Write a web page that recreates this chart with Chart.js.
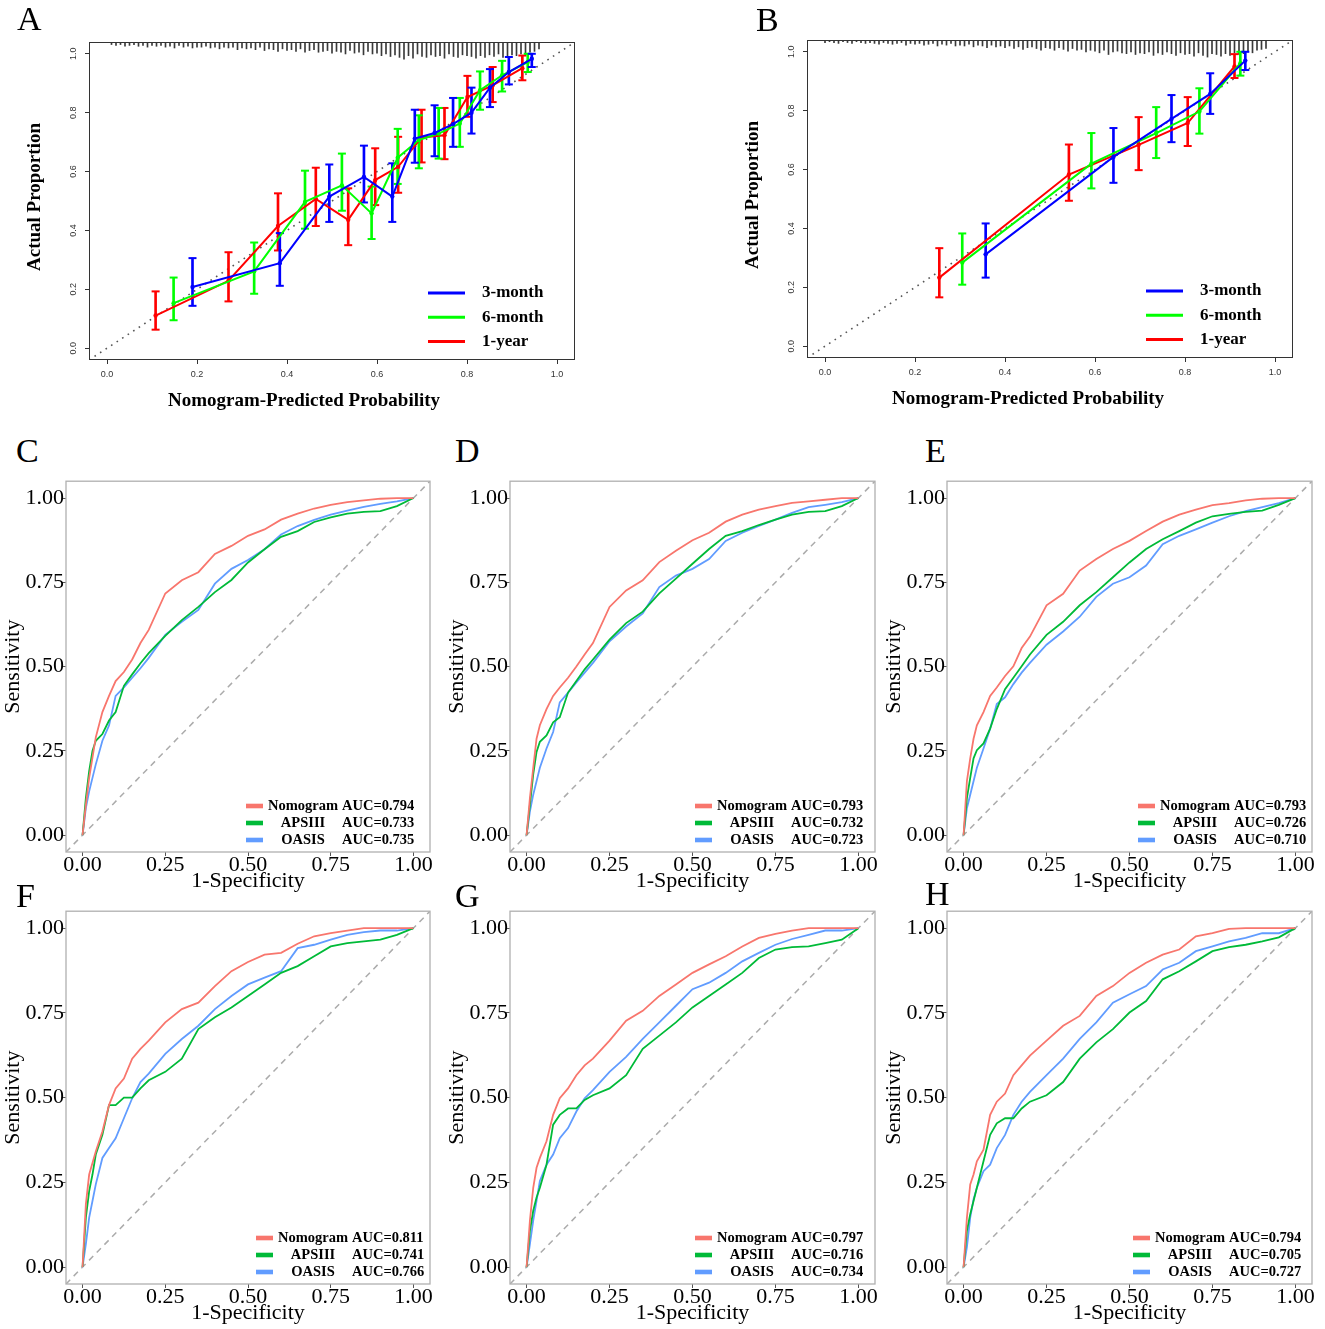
<!DOCTYPE html>
<html>
<head>
<meta charset="utf-8">
<script src="https://cdn.jsdelivr.net/npm/chart.js@4.4.1/dist/chart.umd.min.js"></script>
<style>
  html, body { margin: 0; padding: 0; background: #fff; }
  body { width: 1325px; height: 1329px; position: relative; overflow: hidden; }
  canvas { position: absolute; }
  .tag { position: absolute; font: 34px/34px "Liberation Serif", serif; color: #000; z-index: 5; }
</style>
</head>
<body>
<div class="tag" style="left:17px;top:2px">A</div>
<div class="tag" style="left:756px;top:3px">B</div>
<div class="tag" style="left:16px;top:434px">C</div>
<div class="tag" style="left:455px;top:434px">D</div>
<div class="tag" style="left:925px;top:434px">E</div>
<div class="tag" style="left:16px;top:879px">F</div>
<div class="tag" style="left:455px;top:879px">G</div>
<div class="tag" style="left:925px;top:877px">H</div>
<script>
// ---- calibration curves (A, B) ----
const calTicks = [0, 0.2, 0.4, 0.6, 0.8, 1.0];
const calLabels = ['3-month', '6-month', '1-year'];
const calColors = ['#0000FF', '#00FF00', '#FF0000'];
const calRange = [-0.04, 1.04];

// A
const a3mX = [0.190, 0.384, 0.494, 0.571, 0.634, 0.684, 0.728, 0.769, 0.810, 0.851, 0.893, 0.944];
const a3mY = [0.208, 0.289, 0.515, 0.582, 0.515, 0.712, 0.731, 0.761, 0.800, 0.885, 0.938, 0.983];
const a3mLo = [0.144, 0.212, 0.429, 0.495, 0.429, 0.630, 0.652, 0.684, 0.729, 0.819, 0.896, 0.955];
const a3mHi = [0.306, 0.391, 0.624, 0.688, 0.628, 0.810, 0.825, 0.850, 0.885, 0.948, 0.989, 1.000];
const a6mX = [0.148, 0.327, 0.440, 0.522, 0.588, 0.646, 0.693, 0.737, 0.784, 0.829, 0.878, 0.935];
const a6mY = [0.153, 0.261, 0.497, 0.553, 0.458, 0.647, 0.707, 0.729, 0.763, 0.876, 0.927, 0.972];
const a6mLo = [0.095, 0.185, 0.406, 0.467, 0.371, 0.558, 0.611, 0.644, 0.684, 0.810, 0.872, 0.938];
const a6mHi = [0.240, 0.359, 0.603, 0.661, 0.549, 0.745, 0.791, 0.816, 0.850, 0.940, 0.976, 1.000];
const a1yX = [0.108, 0.270, 0.380, 0.464, 0.536, 0.596, 0.647, 0.699, 0.750, 0.801, 0.857, 0.923];
const a1yY = [0.111, 0.229, 0.415, 0.507, 0.436, 0.571, 0.616, 0.716, 0.723, 0.853, 0.893, 0.951];
const a1yLo = [0.063, 0.159, 0.332, 0.415, 0.350, 0.486, 0.528, 0.631, 0.642, 0.786, 0.836, 0.910];
const a1yHi = [0.193, 0.326, 0.526, 0.613, 0.543, 0.679, 0.718, 0.810, 0.816, 0.925, 0.955, 0.994];

// B
const b3mX = [0.357, 0.641, 0.770, 0.856, 0.934];
const b3mY = [0.312, 0.643, 0.772, 0.857, 0.970];
const b3mLo = [0.233, 0.555, 0.693, 0.789, 0.938];
const b3mHi = [0.417, 0.741, 0.853, 0.927, 1.000];
const b6mX = [0.305, 0.592, 0.736, 0.832, 0.923];
const b6mY = [0.284, 0.620, 0.724, 0.797, 0.961];
const b6mLo = [0.209, 0.536, 0.639, 0.722, 0.919];
const b6mHi = [0.383, 0.724, 0.812, 0.876, 1.000];
const b1yX = [0.254, 0.542, 0.697, 0.806, 0.910];
const b1yY = [0.233, 0.583, 0.684, 0.758, 0.950];
const b1yLo = [0.166, 0.494, 0.598, 0.680, 0.911];
const b1yHi = [0.333, 0.685, 0.778, 0.846, 0.992];

// rug of predicted probabilities (relative frequency)
const rugAProb = [0.01,0.02,0.03,0.04,0.05,0.06,0.07,0.08,0.09,0.10,0.11,0.12,0.13,0.14,0.15,0.16,0.17,0.18,0.19,0.20,0.21,0.22,0.23,0.24,0.25,0.26,0.27,0.28,0.29,0.30,0.31,0.32,0.33,0.34,0.35,0.36,0.37,0.38,0.39,0.40,0.41,0.42,0.43,0.44,0.45,0.46,0.47,0.48,0.49,0.50,0.51,0.52,0.53,0.54,0.55,0.56,0.57,0.58,0.59,0.60,0.61,0.62,0.63,0.64,0.65,0.66,0.67,0.68,0.69,0.70,0.71,0.72,0.73,0.74,0.75,0.76,0.77,0.78,0.79,0.80,0.81,0.82,0.83,0.84,0.85,0.86,0.87,0.88,0.89,0.90,0.91,0.92,0.93,0.94,0.95,0.96];
const rugAFreq = [0.15,0.2,0.15,0.25,0.2,0.15,0.25,0.2,0.3,0.2, 0.25,0.2,0.3,0.25,0.35,0.2,0.3,0.25,0.35,0.3, 0.3,0.25,0.35,0.3,0.4,0.3,0.35,0.3,0.45,0.35, 0.4,0.35,0.45,0.3,0.5,0.4,0.45,0.55,0.4,0.5, 0.45,0.55,0.4,0.6,0.5,0.45,0.6,0.55,0.5,0.65, 0.55,0.6,0.7,0.5,0.65,0.6,0.75,0.55,0.7,0.65, 0.8,0.7,0.85,0.75,0.9,1.0,0.8,0.95,0.7,0.85, 0.9,0.75,0.85,0.8,0.95,0.7,0.85,0.9,0.75,0.8, 0.85,0.95,0.8,0.9,0.75,0.85,0.7,0.9,0.8,0.75, 0.8,0.7,0.75,0.6,0.55,0.4];
const rugBProb = [0.00,0.01,0.02,0.03,0.04,0.05,0.06,0.07,0.08,0.09,0.10,0.11,0.12,0.13,0.14,0.15,0.16,0.17,0.18,0.19,0.20,0.21,0.22,0.23,0.24,0.25,0.26,0.27,0.28,0.29,0.30,0.31,0.32,0.33,0.34,0.35,0.36,0.37,0.38,0.39,0.40,0.41,0.42,0.43,0.44,0.45,0.46,0.47,0.48,0.49,0.50,0.51,0.52,0.53,0.54,0.55,0.56,0.57,0.58,0.59,0.60,0.61,0.62,0.63,0.64,0.65,0.66,0.67,0.68,0.69,0.70,0.71,0.72,0.73,0.74,0.75,0.76,0.77,0.78,0.79,0.80,0.81,0.82,0.83,0.84,0.85,0.86,0.87,0.88,0.89,0.90,0.91,0.92,0.93,0.94,0.95,0.96,0.97,0.98];
const rugBFreq = [0.15,0.1,0.15,0.2,0.1,0.15,0.2,0.1,0.15,0.2, 0.15,0.2,0.25,0.15,0.2,0.25,0.2,0.15,0.3,0.2, 0.25,0.2,0.3,0.25,0.2,0.35,0.25,0.3,0.2,0.35, 0.3,0.35,0.25,0.4,0.3,0.35,0.45,0.3,0.4,0.35, 0.45,0.35,0.5,0.4,0.55,0.45,0.4,0.5,0.6,0.45, 0.5,0.6,0.45,0.55,0.65,0.5,0.6,0.55,0.7,0.6, 0.65,0.75,0.6,0.85,0.7,0.65,0.75,0.8,0.7,0.85, 0.75,0.8,0.7,0.9,0.75,0.85,0.7,0.8,0.9,0.75, 0.85,0.8,0.95,0.75,0.9,1.0,0.8,0.85,0.95,0.8, 0.9,0.75,0.85,0.8,0.7,0.75,0.6,0.55,0.5];

// ---- ROC curves (C - H) ----
const rocTicks = [0, 0.25, 0.5, 0.75, 1];
const rocRange = [-0.05, 1.05];
const rocNames = ['Nomogram', 'APSIII', 'OASIS'];
const rocColors = ['#F8766D', '#00BA38', '#619CFF'];
const rocFpr = [0, 0.01, 0.02, 0.03, 0.04, 0.06, 0.08, 0.1, 0.125, 0.15, 0.175, 0.2, 0.25, 0.3, 0.35, 0.4, 0.45, 0.5, 0.55, 0.6, 0.65, 0.7, 0.75, 0.8, 0.85, 0.9, 0.95, 1];

const tprCNom = [0,.09,.17,.23,.29,.365,.413,.457,.484,.521,.57,.609,.717,.756,.78,.834,.858,.888,.907,.936,.954,.969,.98,.988,.993,.998,1,1];
const tprCAps = [0,.11,.19,.25,.28,.30,.34,.365,.443,.477,.51,.54,.591,.638,.677,.721,.757,.809,.848,.885,.902,.929,.943,.954,.959,.961,.976,1];
const tprCOas = [0,.08,.13,.17,.21,.28,.325,.413,.438,.467,.495,.526,.594,.633,.668,.746,.79,.816,.848,.892,.917,.935,.951,.963,.974,.983,.99,1];
const aucC = ['0.794', '0.733', '0.735'];

const tprDNom = [0,.11,.20,.286,.326,.374,.413,.438,.467,.50,.536,.57,.677,.726,.756,.81,.844,.875,.897,.93,.951,.966,.976,.986,.99,.995,1,1];
const tprDAps = [0,.09,.18,.247,.277,.296,.335,.35,.423,.457,.492,.521,.58,.629,.663,.717,.761,.805,.849,.888,.902,.92,.936,.951,.959,.961,.976,1];
const tprDOas = [0,.07,.12,.16,.20,.257,.306,.394,.423,.453,.482,.511,.575,.619,.658,.736,.77,.79,.819,.873,.897,.917,.936,.956,.973,.98,.988,1];
const aucD = ['0.793', '0.732', '0.723'];

const tprENom = [0,.16,.228,.286,.326,.365,.413,.438,.472,.501,.555,.589,.682,.716,.785,.819,.849,.873,.902,.93,.951,.966,.979,.985,.993,.998,1,1];
const tprEAps = [0,.11,.17,.228,.252,.272,.316,.374,.433,.467,.501,.536,.594,.633,.682,.721,.765,.809,.849,.878,.902,.927,.946,.953,.959,.963,.98,1];
const tprEOas = [0,.08,.12,.16,.20,.257,.316,.389,.409,.448,.482,.511,.565,.604,.648,.707,.746,.765,.80,.863,.888,.907,.927,.946,.961,.973,.985,1];
const aucE = ['0.793', '0.726', '0.710'];

const tprFNom = [0,.185,.273,.307,.341,.40,.478,.527,.556,.615,.644,.668,.722,.761,.78,.829,.873,.90,.922,.927,.954,.976,.985,.993,1,1,1,1];
const tprFAps = [0,.146,.224,.273,.332,.39,.478,.478,.50,.50,.527,.551,.576,.615,.702,.737,.766,.80,.834,.868,.888,.917,.946,.956,.961,.966,.98,1];
const tprFOas = [0,.068,.146,.195,.244,.322,.351,.38,.439,.498,.546,.571,.629,.673,.712,.761,.80,.834,.854,.873,.941,.951,.966,.98,.988,.993,.993,1];
const aucF = ['0.811', '0.741', '0.766'];

const tprGNom = [0,.137,.234,.293,.322,.371,.449,.498,.527,.566,.595,.615,.668,.727,.756,.80,.834,.868,.893,.917,.946,.971,.983,.993,1,1,1,1];
const tprGAps = [0,.107,.166,.205,.234,.302,.42,.449,.468,.468,.493,.507,.527,.566,.644,.683,.722,.766,.80,.834,.868,.912,.937,.944,.946,.956,.966,1];
const tprGOas = [0,.068,.137,.195,.254,.302,.332,.38,.41,.459,.498,.522,.576,.62,.673,.722,.771,.82,.839,.868,.902,.927,.951,.968,.98,.993,.993,1];
const aucG = ['0.797', '0.716', '0.734'];

const tprHNom = [0,.146,.244,.273,.312,.346,.449,.488,.512,.566,.595,.624,.668,.712,.741,.80,.829,.868,.898,.922,.937,.976,.985,.998,1,1,1,1];
const tprHAps = [0,.107,.156,.195,.234,.312,.39,.424,.439,.439,.468,.488,.507,.546,.615,.663,.702,.751,.785,.849,.873,.902,.932,.944,.951,.961,.973,1];
const tprHOas = [0,.059,.146,.20,.234,.283,.302,.351,.39,.449,.488,.517,.566,.615,.673,.722,.78,.805,.829,.878,.898,.932,.946,.961,.971,.985,.985,1];
const aucH = ['0.794', '0.705', '0.727'];

const SERIF = "'Liberation Serif', 'Times New Roman', serif";

// canvas placed on the page, box = wanted plot area in page pixels
function makeCanvas(cv) {
    const c = document.createElement('canvas');
    c.width = cv.w; c.height = cv.h;
    c.style.left = cv.x + 'px'; c.style.top = cv.y + 'px';
    c.style.width = cv.w + 'px'; c.style.height = cv.h + 'px';
    document.body.appendChild(c);
    return c;
}

// box, rotated tick labels, titles and legend of the calibration plots
const calDecor = {
    id: 'calDecor',
    afterDraw(chart, args, o) {
        const { ctx, chartArea: a, scales: { x, y } } = chart;
        ctx.save();
        ctx.strokeStyle = '#333';
        ctx.lineWidth = 1;
        ctx.strokeRect(a.left + 0.5, a.top + 0.5, a.right - a.left - 1, a.bottom - a.top - 1);

        ctx.fillStyle = '#333';
        ctx.font = "9px 'Liberation Sans', Arial, sans-serif";
        ctx.textAlign = 'center';
        ctx.textBaseline = 'middle';
        calTicks.forEach(v => ctx.fillText(v.toFixed(1), x.getPixelForValue(v), a.bottom + 15));
        calTicks.forEach(v => {
            ctx.save();
            ctx.translate(a.left - 15, y.getPixelForValue(v));
            ctx.rotate(-Math.PI / 2);
            ctx.fillText(v.toFixed(1), 0, 0);
            ctx.restore();
        });

        ctx.fillStyle = '#000';
        ctx.font = 'bold 19px ' + SERIF;
        ctx.fillText(o.xTitle, a.left + o.xTitleDx, a.bottom + 41);
        ctx.save();
        ctx.translate(a.left - 54, (a.top + a.bottom) / 2 - 4);
        ctx.rotate(-Math.PI / 2);
        ctx.fillText(o.yTitle, 0, 0);
        ctx.restore();

        ctx.font = 'bold 17px ' + SERIF;
        ctx.textAlign = 'left';
        calLabels.forEach((t, i) => {
            const yy = a.bottom - 67 + i * 24.2;
            ctx.strokeStyle = calColors[i];
            ctx.lineWidth = 3;
            ctx.beginPath();
            ctx.moveTo(a.right - 147, yy);
            ctx.lineTo(a.right - 110, yy);
            ctx.stroke();
            ctx.fillStyle = '#000';
            ctx.fillText(t, a.right - 93, yy);
        });
        ctx.restore();
    }
};

function calChart(cv, box, series, rugProb, rugFreq, xTitleDx) {
    const datasets = [];
    series.forEach((s, i) => {
        datasets.push({
            type: 'line',
            data: s.x.map((x, j) => ({ x, y: s.y[j] })),
            borderColor: calColors[i], backgroundColor: calColors[i],
            borderWidth: 2, pointRadius: 2.2, pointBorderWidth: 0, tension: 0, order: 1
        });
    });
    series.forEach((s, i) => {
        datasets.push({
            type: 'bar',
            data: s.x.map((x, j) => ({ x, y: [s.lo[j], s.hi[j]] })),
            backgroundColor: calColors[i], barThickness: 2, grouped: false, order: 2
        });
        datasets.push({
            type: 'scatter',
            data: s.x.flatMap((x, j) => [{ x, y: s.lo[j] }, { x, y: s.hi[j] }]),
            pointStyle: 'line', pointRadius: 4, borderColor: calColors[i],
            pointBorderWidth: 2, order: 2
        });
    });
    // rug hangs from the top edge of the plot
    datasets.push({
        type: 'bar',
        data: rugProb.map((x, j) => ({ x, y: [calRange[1] - rugFreq[j] * 0.058, calRange[1]] })),
        backgroundColor: '#3a3a3a', barThickness: 1, grouped: false, order: 3
    });
    datasets.push({
        type: 'line',
        data: calRange.map(v => ({ x: v, y: v })),
        borderColor: '#555', borderWidth: 1.6, borderDash: [1.6, 5], pointRadius: 0, order: 4
    });

    const axis = {
        type: 'linear', min: calRange[0], max: calRange[1], offset: false,
        ticks: { display: false },
        grid: { offset: false, drawOnChartArea: false, drawTicks: true, tickLength: 4, tickColor: '#333' },
        border: { display: false },
        afterBuildTicks: s => { s.ticks = calTicks.map(v => ({ value: v })); }
    };
    new Chart(makeCanvas(cv), {
        type: 'scatter',
        data: { datasets },
        options: {
            responsive: false, animation: false, events: [],
            layout: { padding: { left: 0, top: box.t - cv.y, right: cv.x + cv.w - box.r, bottom: 0 } },
            plugins: {
                legend: { display: false }, tooltip: { enabled: false },
                calDecor: { xTitle: 'Nomogram-Predicted Probability', yTitle: 'Actual Proportion', xTitleDx }
            },
            scales: {
                x: Object.assign({}, axis, { position: 'bottom', afterFit: s => { s.height = cv.y + cv.h - box.b; } }),
                y: Object.assign({}, axis, { position: 'left', afterFit: s => { s.width = box.l - cv.x; } })
            }
        },
        plugins: [calDecor]
    });
}

// box and legend of the ROC plots
const rocDecor = {
    id: 'rocDecor',
    afterDraw(chart, args, o) {
        const { ctx, chartArea: a } = chart;
        ctx.save();
        ctx.strokeStyle = '#B0B0B0';
        ctx.lineWidth = 1.3;
        ctx.strokeRect(a.left, a.top, a.right - a.left, a.bottom - a.top);
        const k = a.right - o.right - 168;
        ctx.font = 'bold 14.5px ' + SERIF;
        ctx.textBaseline = 'middle';
        rocNames.forEach((n, i) => {
            const yy = a.bottom - 46 + i * 17;
            ctx.fillStyle = rocColors[i];
            ctx.fillRect(k, yy - 2.3, 17, 4.6);
            ctx.fillStyle = '#000';
            ctx.textAlign = 'center';
            ctx.fillText(n, k + 57, yy);
            ctx.textAlign = 'left';
            ctx.fillText('AUC=' + o.auc[i], k + 96, yy);
        });
        ctx.restore();
    }
};

function rocChart(cv, box, tprs, auc, legendRight, titlePad) {
    const datasets = tprs.map((t, i) => ({
        type: 'line',
        data: rocFpr.map((x, j) => ({ x, y: t[j] })),
        borderColor: rocColors[i], borderWidth: 1.8, pointRadius: 0, tension: 0, order: i
    }));
    datasets.push({
        type: 'line',
        data: rocRange.map(v => ({ x: v, y: v })),
        borderColor: '#ABABAB', borderWidth: 1.5, borderDash: [6, 5], pointRadius: 0, order: 5
    });
    const axis = {
        type: 'linear', min: rocRange[0], max: rocRange[1], offset: false,
        grid: { offset: false, drawOnChartArea: false, drawTicks: true, tickLength: 4, tickColor: '#555' },
        border: { display: false },
        afterBuildTicks: s => { s.ticks = rocTicks.map(v => ({ value: v })); }
    };
    new Chart(makeCanvas(cv), {
        type: 'scatter',
        data: { datasets },
        options: {
            responsive: false, animation: false, events: [],
            layout: { padding: { left: 0, top: box.t - cv.y, right: cv.x + cv.w - box.r, bottom: 0 } },
            plugins: { legend: { display: false }, tooltip: { enabled: false }, rocDecor: { auc, right: legendRight } },
            scales: {
                x: Object.assign({}, axis, {
                    position: 'bottom',
                    ticks: { padding: -4, color: '#000', font: { family: SERIF, size: 22 }, callback: v => v.toFixed(2) },
                    title: { display: true, text: '1-Specificity', color: '#000', font: { family: SERIF, size: 22 }, padding: { top: 0, bottom: titlePad } },
                    afterFit: s => { s.height = cv.y + cv.h - box.b; }
                }),
                y: Object.assign({}, axis, {
                    position: 'left',
                    ticks: { padding: -2, color: '#000', font: { family: SERIF, size: 22 }, callback: v => v.toFixed(2) },
                    title: { display: true, text: 'Sensitivity', color: '#000', font: { family: SERIF, size: 22 }, padding: { top: 0, bottom: 0 } },
                    afterFit: s => { s.width = box.l - cv.x; }
                })
            }
        },
        plugins: [rocDecor]
    });
}

calChart({ x: 0, y: 0, w: 620, h: 430 }, { l: 89, t: 42, r: 575, b: 360 },
    [{ x: a3mX, y: a3mY, lo: a3mLo, hi: a3mHi }, { x: a6mX, y: a6mY, lo: a6mLo, hi: a6mHi }, { x: a1yX, y: a1yY, lo: a1yLo, hi: a1yHi }],
    rugAProb, rugAFreq, 215);
calChart({ x: 720, y: 0, w: 605, h: 430 }, { l: 807, t: 40, r: 1293, b: 358 },
    [{ x: b3mX, y: b3mY, lo: b3mLo, hi: b3mHi }, { x: b6mX, y: b6mY, lo: b6mLo, hi: b6mHi }, { x: b1yX, y: b1yY, lo: b1yLo, hi: b1yHi }],
    rugBProb, rugBFreq, 221);

rocChart({ x: 0, y: 470, w: 444, h: 430 }, { l: 66, t: 477, r: 430, b: 852 }, [tprCNom, tprCAps, tprCOas], aucC, 16, 6);
rocChart({ x: 444, y: 470, w: 437, h: 430 }, { l: 510, t: 477, r: 875, b: 852 }, [tprDNom, tprDAps, tprDOas], aucD, 12, 6);
rocChart({ x: 881, y: 470, w: 444, h: 430 }, { l: 947, t: 477, r: 1312, b: 852 }, [tprENom, tprEAps, tprEOas], aucE, 6, 6);
rocChart({ x: 0, y: 900, w: 444, h: 429 }, { l: 66, t: 908, r: 430, b: 1284 }, [tprFNom, tprFAps, tprFOas], aucF, 6, 3);
rocChart({ x: 444, y: 900, w: 437, h: 429 }, { l: 510, t: 908, r: 875, b: 1284 }, [tprGNom, tprGAps, tprGOas], aucG, 12, 3);
rocChart({ x: 881, y: 900, w: 444, h: 429 }, { l: 947, t: 908, r: 1312, b: 1284 }, [tprHNom, tprHAps, tprHOas], aucH, 11, 3);
</script>
</body>
</html>
